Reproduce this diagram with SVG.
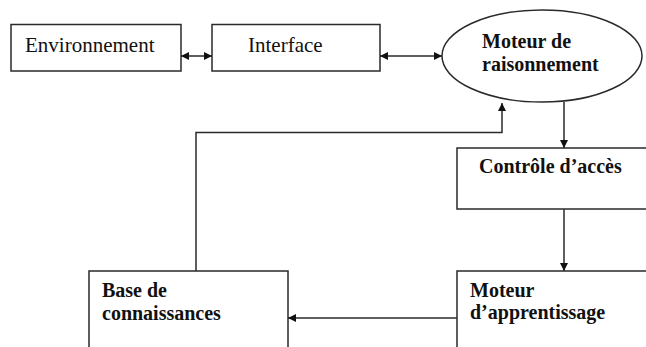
<svg xmlns="http://www.w3.org/2000/svg" width="646" height="347" viewBox="0 0 646 347">
  <style>
    .box { fill: #fff; stroke: #2a2a2a; stroke-width: 1.5; }
    .wire { fill: none; stroke: #2a2a2a; stroke-width: 1.5; }
    .reg { font-family: "Liberation Serif", "Times New Roman", serif; font-size: 21px; fill: #111; }
    .bold { font-family: "Liberation Serif", "Times New Roman", serif; font-size: 20px; font-weight: bold; fill: #111; }
  </style>
  <defs>
    <marker id="arrow" viewBox="0 0 10 10" refX="10" refY="5" markerWidth="8" markerHeight="8" markerUnits="userSpaceOnUse" orient="auto-start-reverse">
      <path d="M0,0 L10,5 L0,10 Z" fill="#111"/>
    </marker>
  </defs>
  <rect width="646" height="347" fill="#fff"/>

  <g id="environnement">
    <rect class="box" x="11" y="24.5" width="170" height="46.5"/>
    <text class="reg" x="25" y="52">Environnement</text>
  </g>

  <g id="interface">
    <rect class="box" x="212" y="24.5" width="168" height="46.5"/>
    <text class="reg" x="248" y="52">Interface</text>
  </g>

  <g id="moteur-raisonnement">
    <ellipse class="box" cx="542" cy="56" rx="100" ry="46"/>
    <text class="bold" x="482" y="48">Moteur de</text>
    <text class="bold" x="482" y="71">raisonnement</text>
  </g>

  <g id="controle-acces">
    <rect class="box" x="457" y="148" width="195" height="61"/>
    <text class="bold" x="479" y="173">Contrôle d’accès</text>
  </g>

  <g id="moteur-apprentissage">
    <rect class="box" x="457" y="271" width="195" height="90"/>
    <text class="bold" x="470" y="297">Moteur</text>
    <text class="bold" x="470" y="319">d’apprentissage</text>
  </g>

  <g id="base-connaissances">
    <rect class="box" x="89" y="271" width="199" height="90"/>
    <text class="bold" x="102" y="297">Base de</text>
    <text class="bold" x="102" y="320">connaissances</text>
  </g>

  <g id="connectors">
    <line class="wire" x1="181" y1="56" x2="212" y2="56" marker-start="url(#arrow)" marker-end="url(#arrow)"/>
    <line class="wire" x1="380" y1="56" x2="442" y2="56" marker-start="url(#arrow)" marker-end="url(#arrow)"/>
    <line class="wire" x1="564" y1="102" x2="564" y2="148" marker-end="url(#arrow)"/>
    <line class="wire" x1="564" y1="209" x2="564" y2="271" marker-end="url(#arrow)"/>
    <line class="wire" x1="457" y1="318" x2="288" y2="318" marker-end="url(#arrow)"/>
    <polyline class="wire" points="196,271 196,132.5 502,132.5 502,103" marker-end="url(#arrow)"/>
  </g>
</svg>
